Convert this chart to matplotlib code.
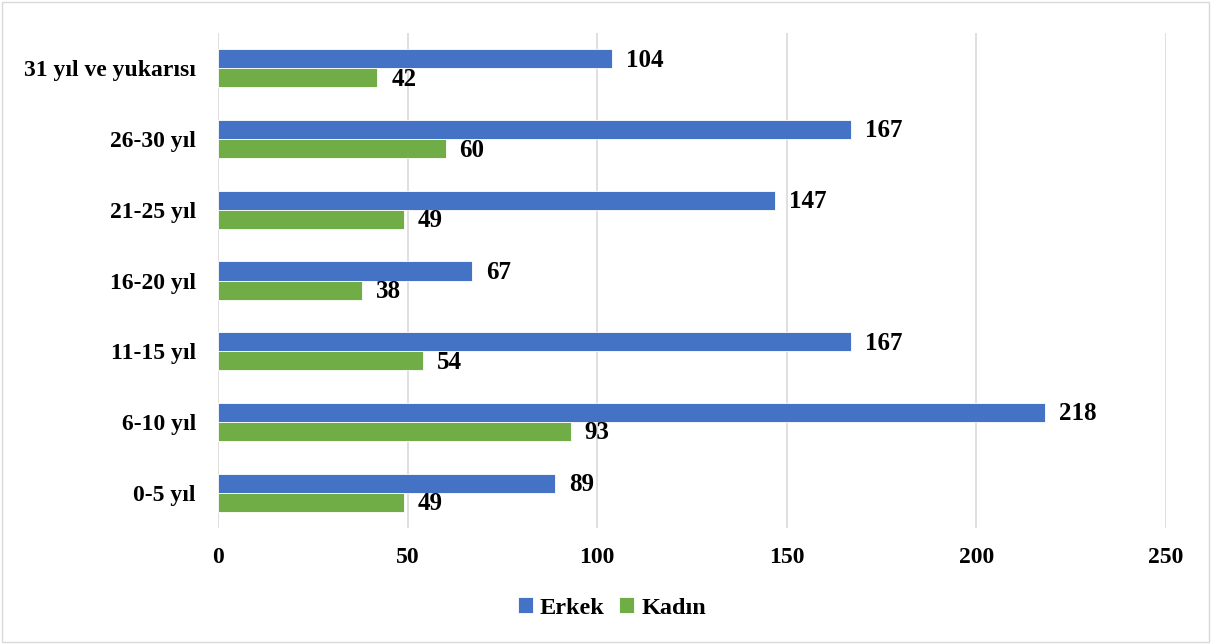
import matplotlib.pyplot as plt
import numpy as np
from matplotlib.patches import Rectangle

categories = ["0-5 yıl", "6-10 yıl", "11-15 yıl", "16-20 yıl", "21-25 yıl", "26-30 yıl", "31 yıl ve yukarısı"]
erkek = [89, 218, 167, 67, 147, 167, 104]
kadin = [49, 93, 54, 38, 49, 60, 42]
xticks = [0, 50, 100, 150, 200, 250]

plt.rcParams['font.family'] = ['Liberation Serif', 'DejaVu Serif']
plt.rcParams['font.weight'] = 'bold'

fig = plt.figure(figsize=(12.11, 6.44), dpi=100)
ax = fig.add_axes([218/1211, 1-528/644, (1166-218)/1211, (528-33)/644])

y = np.arange(len(categories))
h = 0.27
b1 = ax.barh(y + h/2, erkek, height=h, color='#4472C4', edgecolor='white', linewidth=0.6, label='Erkek', zorder=3)
b2 = ax.barh(y - h/2, kadin, height=h, color='#70AD47', edgecolor='white', linewidth=0.6, label='Kadın', zorder=3)

for bars, vals in ((b1, erkek), (b2, kadin)):
    for rect, v in zip(bars, vals):
        ax.annotate(str(v), (rect.get_width(), rect.get_y() + rect.get_height()/2),
                    xytext=(10, -1), textcoords='offset points', ha='left', va='center',
                    fontsize=18, fontweight='bold', color='black')

ax.set_xlim(0, 250)
ax.set_ylim(-0.5, len(categories) - 0.5)
ax.set_xticks(xticks)
ax.set_xticklabels([str(t) for t in xticks], fontsize=17, fontweight='bold')
ax.set_yticks(y)
ax.set_yticklabels(categories, fontsize=17, fontweight='bold')
ax.tick_params(axis='x', length=0, pad=14)
ax.tick_params(axis='y', length=0, pad=16)
ax.grid(axis='x', color='#D9D9D9', linewidth=1.2, zorder=0)
for s in ax.spines.values():
    s.set_visible(False)

leg = fig.legend(handles=[b1, b2], loc='center', bbox_to_anchor=(612/1211, 1-608/644), ncol=2,
                 frameon=False, fontsize=17.5, handlelength=0.6, handleheight=0.6, handletextpad=0.3,
                 columnspacing=0.6)

fig.patches.append(Rectangle((0.002, 0.003), 0.996, 0.994, transform=fig.transFigure,
                             fill=False, edgecolor='#D9D9D9', linewidth=1))

fig.savefig('out.png', dpi=100)
